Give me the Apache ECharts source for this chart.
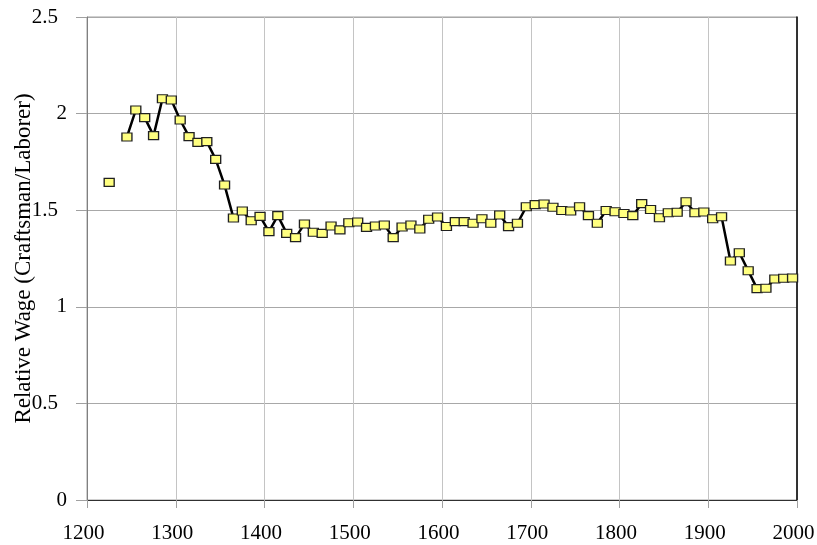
<!DOCTYPE html>
<html>
<head>
<meta charset="utf-8">
<script src="https://cdn.jsdelivr.net/npm/echarts@6/dist/echarts.min.js"></script>
<style>
html,body{margin:0;padding:0;background:#fff;}
#chart{width:817px;height:545px;}
</style>
</head>
<body>
<div id="chart"></div>
<script>
var years = [1225,1235,1245,1255,1265,1275,1285,1295,1305,1315,1325,1335,1345,1355,1365,1375,1385,1395,
  1405,1415,1425,1435,1445,1455,1465,1475,1485,1495,1505,1515,1525,1535,1545,1555,1565,1575,1585,1595,
  1605,1615,1625,1635,1645,1655,1665,1675,1685,1695,1705,1715,1725,1735,1745,1755,1765,1775,1785,1795,
  1805,1815,1825,1835,1845,1855,1865,1875,1885,1895,1905,1915,1925,1935,1945,1955,1965,1975,1985,1995];
var relWage = [1.644,null,1.879,2.019,1.979,1.886,2.077,2.070,1.967,1.881,1.851,1.855,1.763,1.630,1.460,1.496,1.445,1.468,
  1.389,1.472,1.380,1.358,1.429,1.386,1.380,1.418,1.398,1.435,1.439,1.411,1.418,1.423,1.358,1.413,1.423,1.403,1.453,1.465,
  1.416,1.441,1.441,1.432,1.456,1.432,1.475,1.415,1.432,1.518,1.529,1.532,1.515,1.498,1.496,1.518,1.472,1.432,1.498,1.492,
  1.483,1.472,1.534,1.504,1.461,1.487,1.489,1.544,1.487,1.491,1.456,1.466,1.237,1.280,1.187,1.094,1.096,1.144,1.148,1.149];
var xTicks = [1200,1300,1400,1500,1600,1700,1800,1900,2000];
var yTicks = [0,0.5,1,1.5,2,2.5];
var yTitle = 'Relative Wage (Craftsman/Laborer)';

var seriesData = years.map(function(y,i){ return [y, relWage[i] === null ? '-' : relWage[i]]; });

var chart = echarts.init(document.getElementById('chart'));
var font = '"Liberation Serif","Times New Roman",serif';
chart.setOption({
  animation: false,
  backgroundColor: '#ffffff',
  grid: {left: 87, right: 20, top: 17, bottom: 45, containLabel: false, outerBoundsMode: 'none',
    show: true, borderColor: '#a0a0a0', borderWidth: 1, backgroundColor: 'transparent'},
  xAxis: {
    type: 'value', min: xTicks[0], max: xTicks[xTicks.length-1], interval: 100,
    axisLine: {show: true, onZero: false, lineStyle: {color: '#303030', width: 1}},
    axisTick: {show: true, inside: false, length: 8, lineStyle: {color: '#a0a0a0'}},
    splitLine: {show: true, lineStyle: {color: '#c4c4c4', width: 1}},
    axisLabel: {color: '#000', fontFamily: font, fontSize: 21, margin: 23, padding: [0, 7, 0, 0],
      formatter: function(v){ return String(v); }}
  },
  yAxis: [{
    type: 'value', min: yTicks[0], max: yTicks[yTicks.length-1], interval: 0.5,
    name: yTitle, nameLocation: 'middle', nameGap: 52, nameRotate: 90, nameMoveOverlap: false,
    nameTextStyle: {color: '#000', fontFamily: font, fontSize: 23},
    axisLine: {show: true, lineStyle: {color: '#808080', width: 1}},
    axisTick: {show: true, inside: false, length: 11, lineStyle: {color: '#a0a0a0'}},
    splitLine: {show: true, lineStyle: {color: '#a8a8a8', width: 1}},
    axisLabel: {color: '#000', fontFamily: font, fontSize: 21, margin: 20,
      formatter: function(v){ return (v % 1 === 0) ? '{i|' + v + '}' : '{d|' + v + '}'; },
      rich: {
        i: {color: '#000', fontFamily: font, fontSize: 21},
        d: {color: '#000', fontFamily: font, fontSize: 21, padding: [0, 9, 0, 0]}
      }}
  }, {
    type: 'value', position: 'right', min: 0, max: 2.5,
    axisLine: {show: true, lineStyle: {color: '#000', width: 1.5}},
    axisTick: {show: false}, axisLabel: {show: false}, splitLine: {show: false}
  }],
  series: [{
    type: 'line',
    data: seriesData,
    connectNulls: false,
    symbol: 'rect',
    symbolSize: [10, 8],
    showAllSymbol: true,
    lineStyle: {color: '#000', width: 2.5},
    itemStyle: {color: '#ffff80', borderColor: '#202020', borderWidth: 1.2},
    z: 3
  }]
});
</script>
</body>
</html>
